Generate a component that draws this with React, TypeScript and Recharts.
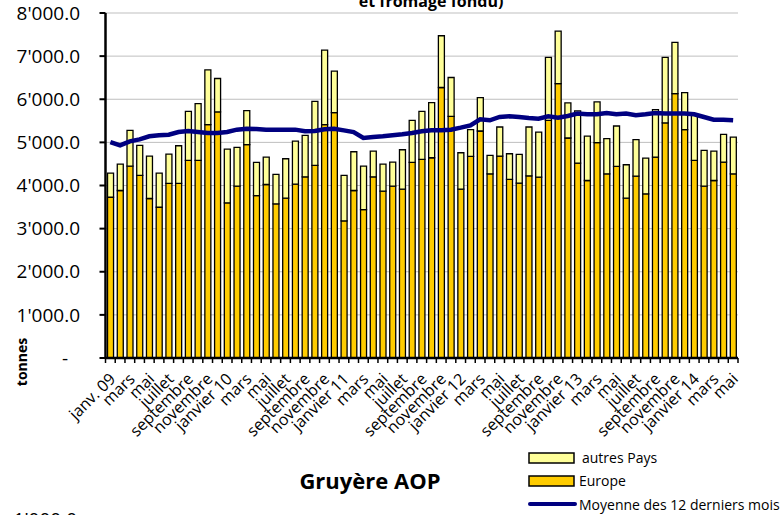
import { ComposedChart, Bar, Line, XAxis, YAxis, CartesianGrid } from 'recharts'

const MONTH_NAMES = ['janvier', 'février', 'mars', 'avril', 'mai', 'juin', 'juillet', 'août', 'septembre', 'octobre', 'novembre', 'décembre']
const YEARS = ['09', '10', '11', '12', '13', '14']
const MONTH_COUNT = 65

const months = Array.from({ length: MONTH_COUNT }, (_, i) => {
  const m = i % 12
  const yr = YEARS[Math.floor(i / 12)]
  if (i === 0) return `janv. ${yr}`
  if (m === 0) return `janvier ${yr}`
  return MONTH_NAMES[m]
})

// tonnes, Europe (bottom part of each bar)
const europe = [
  3728, 3884, 4449, 4233, 3698, 3496, 4047, 4047, 4581, 4581, 5411, 5705,
  3597, 3984, 4946, 3767, 4023, 3574, 3705, 4031, 4202, 4465, 5411, 5690,
  3178, 3884, 3442, 4202, 3868, 3984, 3915, 4535, 4605, 4643, 6272, 5605,
  3915, 4674, 5264, 4271, 4682, 4140, 4054, 4225, 4194, 5512, 6364, 5101,
  4519, 4116, 4992, 4271, 4442, 3705, 4217, 3806, 4659, 5450, 6132, 5295,
  4581, 3984, 4116, 4543, 4271,
]

// tonnes, other countries (stacked on top)
const autresPays = [
  558, 612, 830, 697, 984, 790, 682, 875, 1140, 1318, 1271, 776,
  1248, 900, 790, 768, 636, 682, 915, 1000, 961, 1488, 1729, 961,
  1055, 899, 1007, 596, 628, 559, 914, 977, 1116, 1279, 1200, 899,
  845, 621, 775, 427, 675, 596, 667, 1132, 1046, 1457, 1217, 814,
  1210, 1031, 946, 814, 938, 776, 845, 830, 1101, 1519, 1186, 860,
  1047, 830, 682, 643, 853,
]

// 12-month moving average
const moyenne12 = [
  5008, 4930, 5023, 5070, 5140, 5163, 5178, 5240, 5264, 5240,
  5217, 5217, 5240, 5295, 5318, 5310, 5295, 5295, 5290, 5295,
  5256, 5264, 5302, 5318, 5279, 5240, 5101, 5124, 5140, 5163,
  5186, 5217, 5256, 5279, 5279, 5295, 5341, 5395, 5535, 5512,
  5589, 5605, 5589, 5566, 5550, 5605, 5574, 5612, 5667, 5650,
  5651, 5682, 5651, 5667, 5628, 5651, 5682, 5667, 5667, 5667,
  5651, 5589, 5527, 5527, 5512,
]

const yTicks = [0, 1000, 2000, 3000, 4000, 5000, 6000, 7000, 8000]

const data = months.map((month, i) => ({
  month,
  europe: europe[i],
  autres: autresPays[i],
  moyenne: moyenne12[i],
}))

const FONT = '"Open Sans", "DejaVu Sans", sans-serif'
const WIDTH = 780
const HEIGHT = 515
const MARGIN = { top: 13, right: 42, bottom: 0, left: 0 }
const Y_AXIS_W = 105.5
const X_AXIS_H = 157
const BAND = (WIDTH - MARGIN.right - Y_AXIS_W) / MONTH_COUNT

const fmt = (v: number) => `${Math.floor(v / 1000)}'${String(v % 1000).padStart(3, '0')}.0`

const YTick = ({ x, y, payload }: any) => {
  const v = payload.value
  return (
    <text
      x={v === 0 ? x - 12 : x}
      y={y}
      dy="0.35em"
      textAnchor="end"
      fontSize={19}
      fontFamily={FONT}
      fill="#000"
    >
      {v === 0 ? '-' : fmt(v)}
    </text>
  )
}

const XTick = ({ x, y, payload }: any) => {
  const idx = payload.index
  const axisY = y - 5
  const half = BAND / 2
  return (
    <g>
      <line x1={x - half} x2={x - half} y1={axisY} y2={axisY + 5} stroke="#000" strokeWidth={1.5} />
      {idx === MONTH_COUNT - 1 && (
        <line x1={x + half} x2={x + half} y1={axisY} y2={axisY + 5} stroke="#000" strokeWidth={1.5} />
      )}
      {idx % 2 === 0 && (
        <text
          transform={`translate(${x + 6},${axisY + 22}) rotate(-45)`}
          textAnchor="end"
          fontSize={16}
          fontFamily={FONT}
          fill="#000"
        >
          {payload.value}
        </text>
      )}
    </g>
  )
}

export default function App() {
  return (
    <div style={{ position: 'relative', width: WIDTH, height: HEIGHT, overflow: 'hidden', background: '#fff' }}>
      <style>{'body{margin:0}'}</style>
      <ComposedChart
        width={WIDTH}
        height={HEIGHT}
        data={data}
        margin={MARGIN}
        barCategoryGap="21%"
      >
        <CartesianGrid vertical={false} stroke="#BFBFBF" strokeWidth={1} />
        <XAxis
          dataKey="month"
          height={X_AXIS_H}
          interval={0}
          tick={<XTick />}
          tickLine={false}
          tickSize={5}
          tickMargin={0}
          axisLine={{ stroke: '#000', strokeWidth: 2.5 }}
        />
        <XAxis
          xAxisId="top"
          dataKey="month"
          orientation="top"
          height={0}
          tick={false}
          tickLine={false}
          axisLine={{ stroke: '#000', strokeWidth: 1.2 }}
        />
        <YAxis
          width={Y_AXIS_W}
          domain={[0, 8000]}
          ticks={yTicks}
          interval={0}
          tick={<YTick />}
          tickSize={6}
          tickMargin={19.5}
          tickLine={{ stroke: '#000', strokeWidth: 2 }}
          axisLine={{ stroke: '#000', strokeWidth: 2.5 }}
        />
        <YAxis
          yAxisId="right"
          orientation="right"
          width={0}
          domain={[0, 8000]}
          tick={false}
          tickLine={false}
          axisLine={{ stroke: '#000', strokeWidth: 1.2 }}
        />
        <Bar dataKey="europe" stackId="a" fill="#FFCC00" stroke="#000" strokeWidth={1.3} isAnimationActive={false} />
        <Bar dataKey="autres" stackId="a" fill="#FFFF99" stroke="#000" strokeWidth={1.3} isAnimationActive={false} />
        <Line
          dataKey="moyenne"
          type="linear"
          stroke="#000080"
          strokeWidth={4.5}
          dot={false}
          activeDot={false}
          isAnimationActive={false}
        />
      </ComposedChart>
      <svg
        width={WIDTH}
        height={HEIGHT}
        style={{ position: 'absolute', left: 0, top: 0, pointerEvents: 'none' }}
        fontFamily={FONT}
      >
        <text x={431} y={6.5} textAnchor="middle" fontSize={16} fontWeight="bold">et fromage fondu)</text>
        <text transform="translate(27,362) rotate(-90)" textAnchor="middle" fontSize={14} fontWeight="bold">tonnes</text>
        <text x={370} y={489} textAnchor="middle" fontSize={22} fontWeight="bold">Gruyère AOP</text>
        <text x={77} y={526} textAnchor="end" fontSize={19}>1'000.0</text>

        <rect x={529} y={453} width={45} height={10} fill="#FFFF99" stroke="#000" strokeWidth={1.5} />
        <text x={582} y={458} dy="0.35em" fontSize={14}>autres Pays</text>
        <rect x={529} y={476} width={45} height={10} fill="#FFCC00" stroke="#000" strokeWidth={1.5} />
        <text x={579} y={481} dy="0.35em" fontSize={14}>Europe</text>
        <line x1={530} x2={575} y1={504} y2={504} stroke="#000080" strokeWidth={4} strokeLinecap="round" />
        <text x={579} y={505} dy="0.35em" fontSize={14}>Moyenne des 12 derniers mois</text>
      </svg>
    </div>
  )
}
